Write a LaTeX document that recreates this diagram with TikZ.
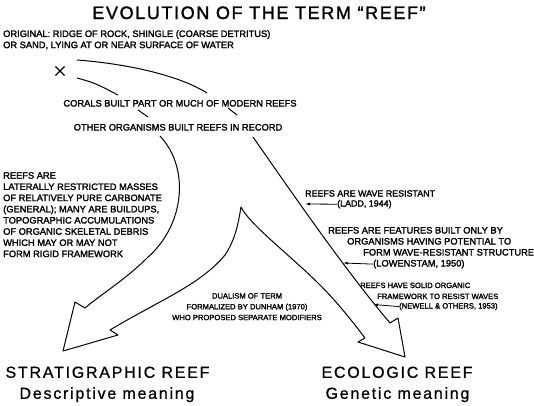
\documentclass[tikz,border=0pt]{standalone}
\usepackage{fontspec}
\setmainfont{Liberation Sans}
\newfontfamily\notefont[FakeBold=2]{Liberation Sans}
\newfontfamily\titlefont[LetterSpace=9,FakeBold=1.5]{Liberation Sans}
\newfontfamily\headfont[LetterSpace=11,FakeBold=0.8]{Liberation Sans}
\usetikzlibrary{arrows.meta,shapes.misc}

\begin{document}
\begin{tikzpicture}[x=1pt,y=-1pt,
  note/.style={font=\notefont\fontsize{9.3}{11.2}\selectfont,inner sep=0pt,align=left},
  small/.style={font=\notefont\fontsize{7.6}{10.8}\selectfont,inner sep=0pt,align=left},
  head/.style={font=\headfont\fontsize{16}{18}\selectfont,inner sep=0pt,anchor=base},
  link/.style={line width=1pt},
  cite/.style={-{Latex[length=5pt,width=3pt]},line width=.8pt}]
  \useasboundingbox (0,0) rectangle (534,405);
  \node[font=\titlefont\fontsize{18}{20}\selectfont,inner sep=0pt,anchor=base] (title) at (259,19) {EVOLUTION OF THE TERM “REEF”};
  \node[note,anchor=north west] (orig) at (3,30) {ORIGINAL: RIDGE OF ROCK, SHINGLE (COARSE DETRITUS)\\OR SAND, LYING AT OR NEAR SURFACE OF WATER};
  \node[cross out,draw,line width=1.2pt,minimum size=8pt,inner sep=0pt] (xmark) at (60,71) {};
  \node[note,anchor=base] (corals) at (180,106.5) {CORALS BUILT PART OR MUCH OF MODERN REEFS};
  \node[note,anchor=base] (other) at (178,130.5) {OTHER ORGANISMS BUILT REEFS IN RECORD};
  \node[note,anchor=north west] (strat) at (3,172) {REEFS ARE\\LATERALLY RESTRICTED MASSES\\OF RELATIVELY PURE CARBONATE\\(GENERAL); MANY ARE BUILDUPS,\\TOPOGRAPHIC ACCUMULATIONS\\OF ORGANIC SKELETAL DEBRIS\\WHICH MAY OR MAY NOT\\FORM RIGID FRAMEWORK};
  \node[note,anchor=base west,font=\notefont\fontsize{8.9}{11}\selectfont] (wave) at (305,196.5) {REEFS ARE WAVE RESISTANT};
  \node[note,anchor=base west,font=\notefont\fontsize{8.9}{11}\selectfont] (ladd) at (337,206.5) {(LADD, 1944)};
  \node[note,anchor=base west] (feat1) at (328,233.5) {REEFS ARE FEATURES BUILT ONLY BY};
  \node[note,anchor=base west] (feat2) at (347,244.5) {ORGANISMS HAVING POTENTIAL TO};
  \node[note,anchor=base west] (feat3) at (363,255.5) {FORM WAVE-RESISTANT STRUCTURE};
  \node[note,anchor=base west] (lowen) at (373,266.5) {(LOWENSTAM, 1950)};
  \node[small,anchor=base west] (solid1) at (360,288) {REEFS HAVE SOLID ORGANIC};
  \node[small,anchor=base west] (solid2) at (377,299) {FRAMEWORK TO RESIST WAVES};
  \node[small,anchor=base west] (newell) at (399,308.5) {(NEWELL \& OTHERS, 1953)};
  \node[small,align=center,anchor=north] (dual) at (247,293) {DUALISM OF TERM\\FORMALIZED BY DUNHAM (1970)\\WHO PROPOSED SEPARATE MODIFIERS};
  \node[head] (stratref) at (107.5,377.8) {STRATIGRAPHIC REEF};
  \node[head] (descr) at (107,398.8) {Descriptive meaning};
  \node[head] (ecoref) at (397,377.8) {ECOLOGIC REEF};
  \node[head] (genet) at (397.5,398.8) {Genetic meaning};
  \coordinate (x1) at (77,60);   \coordinate (x2) at (77,78);
  \coordinate (c1) at (118,95);  \coordinate (c2) at (207,93);
  \coordinate (c3) at (138,110); \coordinate (c4) at (228,108);
  \coordinate (o1) at (148,117); \coordinate (o2) at (237,115);
  \coordinate (o3) at (160,136); \coordinate (o4) at (253,137);
  \coordinate (s1) at (305,204); \coordinate (s2) at (343,263); \coordinate (s3) at (373,304.5);
  \draw[link] (x1) .. controls (130,64) and (180,76) .. (c2);
  \draw[link] (x2) .. controls (95,83) .. (c1);
  \draw[link] (c3) -- (o1);
  \draw[link] (c4) -- (o2);
  \draw[link,line join=round] (o3) .. controls (190,168) and (185,225) .. (147,258)
    .. controls (125,280) and (100,295) .. (85,308) -- (75,302) -- (63,351) -- (118,335) -- (110,330)
    .. controls (160,300) and (200,285) .. (225,255) .. controls (235,240) and (238,225) .. (241,207)
    .. controls (250,225) and (290,255) .. (320,285) .. controls (340,305) and (355,325) .. (365,338)
    -- (358,342) -- (405,357) -- (398,318) -- (390,323)
    .. controls (345,270) and (290,190) .. (o4);
  \draw[cite] (ladd.west) -- (s1);
  \draw[cite] (lowen.west) -- (s2);
  \draw[cite] (newell.west) -- (s3);
\end{tikzpicture}
\end{document}
